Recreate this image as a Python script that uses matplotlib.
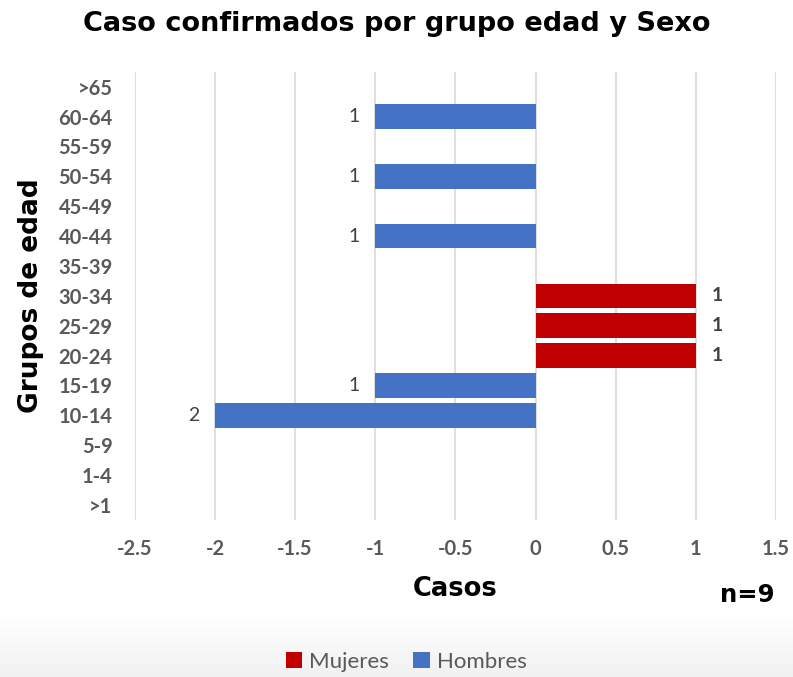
import matplotlib
matplotlib.use("Agg")
import matplotlib.pyplot as plt
import numpy as np

grupos = [">1", "1-4", "5-9", "10-14", "15-19", "20-24", "25-29", "30-34",
          "35-39", "40-44", "45-49", "50-54", "55-59", "60-64", ">65"]
mujeres = [0, 0, 0, 0, 0, 1, 1, 1, 0, 0, 0, 0, 0, 0, 0]
hombres = [0, 0, 0, -2, -1, 0, 0, 0, 0, -1, 0, -1, 0, -1, 0]
xticks = [-2.5, -2, -1.5, -1, -0.5, 0, 0.5, 1, 1.5]

rojo = "#C00000"
azul = "#4472C4"
gris = "#595959"

fig = plt.figure(figsize=(7.93, 6.77), dpi=100)

# soft grey band at the bottom
bg = fig.add_axes([0, 0, 1, 0.09], zorder=-5)
grad = np.linspace(1, 0, 50).reshape(-1, 1)
bg.imshow(grad, aspect="auto", cmap=matplotlib.colors.LinearSegmentedColormap.from_list(
    "g", ["#f1f1f1", "#ffffff"]), extent=[0, 1, 0, 1])
bg.axis("off")

ax = fig.add_axes([0.170, 0.232, 0.8086, 0.662])
y = np.arange(len(grupos))
ax.barh(y, mujeres, height=0.82, color=rojo, zorder=3, label="Mujeres")
ax.barh(y, hombres, height=0.82, color=azul, zorder=3, label="Hombres")

for i, v in enumerate(mujeres):
    if v != 0:
        ax.text(v + 0.1, i, str(abs(v)), ha="left", va="center", fontsize=14,
                fontweight="bold", color="#404040", family="Lato")
for i, v in enumerate(hombres):
    if v != 0:
        ax.text(v - 0.1, i, str(abs(v)), ha="right", va="center", fontsize=14,
                color="#404040", family="Lato")

ax.set_xlim(-2.5, 1.5)
ax.set_ylim(-0.5, len(grupos) - 0.5)
ax.set_xticks(xticks)
ax.set_xticklabels([f"{t:g}" for t in xticks])
ax.set_yticks(y)
ax.set_yticklabels(grupos)
for lab in ax.get_xticklabels() + ax.get_yticklabels():
    lab.set_family("Lato")
    lab.set_fontweight("bold")
    lab.set_fontsize(14.5)
    lab.set_color(gris)
ax.tick_params(axis="y", length=0, pad=16)
ax.tick_params(axis="x", length=0, pad=14)
ax.grid(axis="x", color="#d9d9d9", linewidth=1.2, zorder=0)
for s in ax.spines.values():
    s.set_visible(False)

ax.set_ylabel("Grupos de edad", fontsize=19, fontweight="bold", color="black",
              family="DejaVu Sans", labelpad=10)
ax.set_xlabel("Casos", fontsize=18.5, fontweight="bold", color="black",
              family="DejaVu Sans", labelpad=12)

fig.text(0.5, 0.965, "Caso confirmados por grupo edad y Sexo", ha="center", va="center",
         fontsize=19.5, fontweight="bold", color="black", family="DejaVu Sans")
fig.text(0.942, 0.121, "n=9", ha="center", va="center", fontsize=17.5,
         fontweight="bold", color="black", family="DejaVu Sans")

handles, labels = ax.get_legend_handles_labels()
leg = fig.legend(handles, labels, loc="center", bbox_to_anchor=(0.512, 0.022), ncol=2,
                 frameon=False, handlelength=0.75, handleheight=0.75, handletextpad=0.3,
                 columnspacing=1.1, prop={"family": "Lato", "size": 16})
for t in leg.get_texts():
    t.set_color(gris)

fig.savefig("out.png", dpi=100)
